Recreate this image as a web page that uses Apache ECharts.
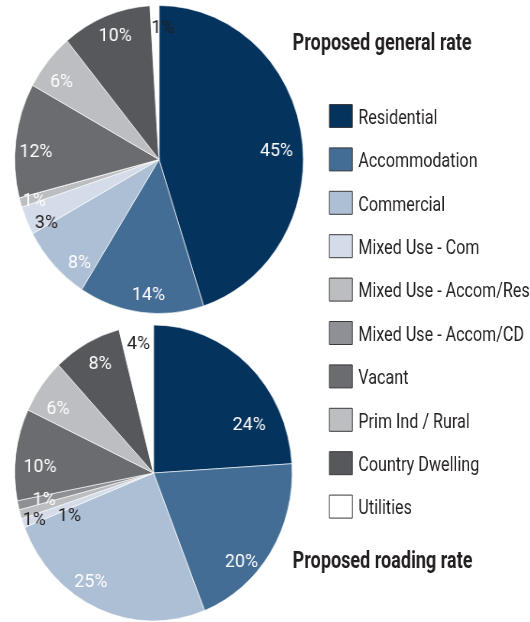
<!DOCTYPE html>
<html><head><meta charset="utf-8">
<script src="https://cdn.jsdelivr.net/npm/echarts@6/dist/echarts.min.js"></script>
<style>
html,body{margin:0;padding:0;background:#fff;overflow:hidden;width:530px;height:622px;position:relative}
#pies{position:absolute;left:0;top:0;width:566px;height:622px;transform:scaleX(0.937);transform-origin:0 0}
#texts{position:absolute;left:0;top:0;width:694px;height:622px;transform:scaleX(0.764);transform-origin:0 0;pointer-events:none}
</style>
</head><body><div id="pies"></div><div id="texts"></div>
<script>
// ---- data ----
const categories = ['Residential', 'Accommodation', 'Commercial', 'Mixed Use - Com',
  'Mixed Use - Accom/Res', 'Mixed Use - Accom/CD', 'Vacant', 'Prim Ind / Rural',
  'Country Dwelling', 'Utilities'];
const generalRate = [45, 14, 8, 3, 1, 0, 12, 6, 10, 1];
const roadingRate = [24, 20, 25, 1, 1, 1, 10, 6, 8, 4];
const titles = ['Proposed general rate', 'Proposed roading rate'];

// ---- styles ----
const colors = ['#04335d', '#436d94', '#adbfd4', '#d3dce8', '#bcbdc1',
  '#8f9095', '#6b6c70', '#bdbec1', '#57585b', '#ffffff'];
const FONT = "Roboto, 'DejaVu Sans Condensed', sans-serif";
const TEXT = '#231f20';
const generalDark = [3, 9];
const roadingDark = [3, 4, 9];
const generalNudge = {0: {dx: -5.3, dy: 12}, 1: {dx: 5.3, dy: 4}, 2: {dx: 11.7, dy: 13},
  3: {dx: 1.4, dy: 11.6}, 4: {dx: -6, dy: 5}, 6: {dx: 0, dy: 9}, 7: {dx: -2, dy: 7},
  8: {dx: 2, dy: 0}, 9: {dx: 8.3, dy: 0.8}};
const roadingNudge = {0: {dx: 15, dy: 45.5}, 1: {dx: -13.6, dy: 21}, 2: {dx: -16.3, dy: -7.6},
  3: {dx: 30, dy: 0.4}, 4: {dx: -5, dy: 12}, 5: {dx: 7.5, dy: -1}, 6: {dx: 5.3, dy: 10},
  7: {dx: 1, dy: 11}, 8: {dx: 4.3, dy: 3}, 9: {dx: 0, dy: -2}};
// legend swatch: 23px square box sitting at the top of a 28px-tall item
const SWATCH = 'path://M0,0H30.1V23H0ZM0,28L0,28';

function pieSeries(values, center, r, darkIdx, nudge) {
  const base = {
    type: 'pie', center: center, startAngle: 90, clockwise: true,
    silent: true, animation: false, emphasis: {disabled: true},
    labelLine: {show: false}
  };
  return [
    Object.assign({}, base, {
      radius: [0, r],
      data: categories.map((name, i) => ({name: name, value: values[i], itemStyle: {color: colors[i]}})),
      itemStyle: {borderColor: '#ffffff', borderWidth: 0.6},
      label: {show: false}
    }),
    Object.assign({}, base, {
      radius: [r * 0.68, r],
      data: categories.map((name, i) => ({
        name: name, value: values[i],
        itemStyle: {color: 'rgba(0,0,0,0)', borderWidth: 0},
        label: {color: darkIdx.indexOf(i) >= 0 ? TEXT : '#ffffff'}
      })),
      label: {
        show: true, position: 'inside', fontFamily: FONT, fontSize: 19,
        formatter: p => (p.value > 0 ? p.value + '%' : '')
      },
      labelLayout: p => nudge[p.dataIndex] || {}
    })
  ];
}

const pies = echarts.init(document.getElementById('pies'), null, {renderer: 'canvas'});
pies.setOption({
  animation: false,
  series: [].concat(
    pieSeries(generalRate, [169.7, 159.5], 154, generalDark, generalNudge),
    pieSeries(roadingRate, [163.8, 473], 148, roadingDark, roadingNudge)
  )
});

const texts = echarts.init(document.getElementById('texts'), null, {renderer: 'canvas'});
texts.setOption({
  animation: false,
  backgroundColor: 'transparent',
  title: [
    {text: titles[0], left: 383.1, top: 32.6, padding: 0,
      textStyle: {fontFamily: FONT, fontSize: 23.6, fontWeight: 'bold', color: TEXT, lineHeight: 23.6}},
    {text: titles[1], left: 383.1, top: 549.8, padding: 0,
      textStyle: {fontFamily: FONT, fontSize: 23.6, fontWeight: 'bold', color: TEXT, lineHeight: 23.6}}
  ],
  legend: {
    orient: 'vertical', left: 430.6, top: 104, padding: 0,
    itemWidth: 30.1, itemHeight: 28, itemGap: 14.4, icon: SWATCH,
    selectedMode: false,
    textStyle: {fontFamily: FONT, fontSize: 21.1, lineHeight: 23, color: TEXT, padding: [0, 0, 0, 2.85]},
    data: categories.map((name, i) => ({
      name: name,
      itemStyle: {color: colors[i], borderColor: '#3a3a3a', borderWidth: 1}
    }))
  },
  series: [{
    type: 'pie', radius: [0, 0], center: [-50, -50], silent: true, label: {show: false},
    data: categories.map((name, i) => ({name: name, value: generalRate[i] + roadingRate[i]}))
  }]
});
</script>
</body></html>
